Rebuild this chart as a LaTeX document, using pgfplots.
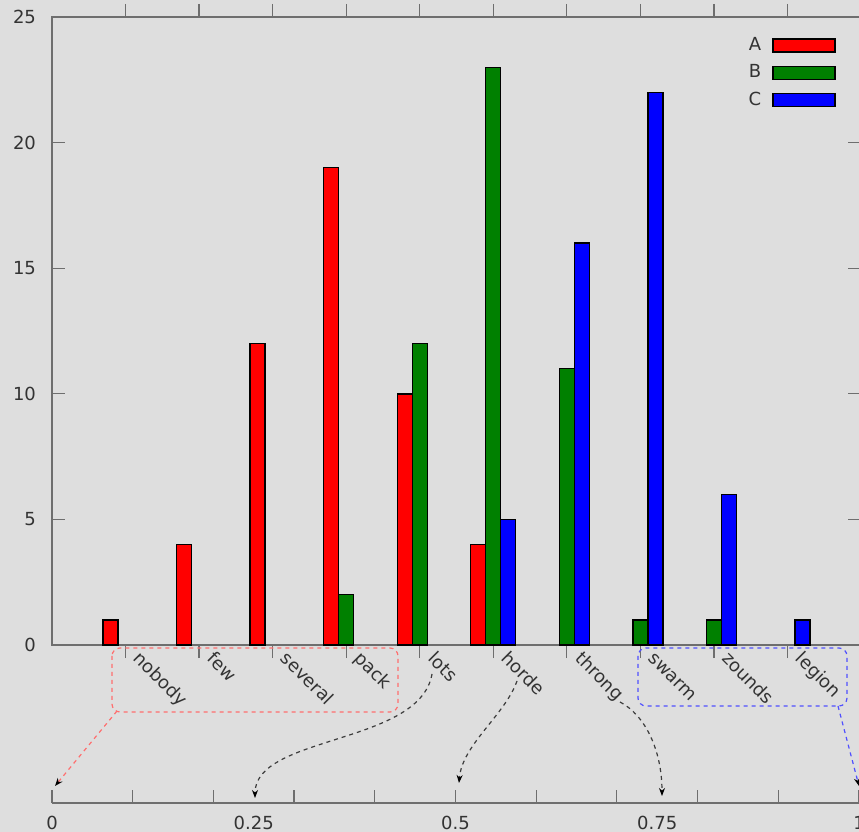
\documentclass[border=0pt]{standalone}
\usepackage{fontspec}
\setmainfont{DejaVu Sans}
\usepackage{pgfplots}
\usepackage{pgfplotstable}
\pgfplotsset{compat=1.18}
\usetikzlibrary{arrows.meta}
\definecolor{bg}{RGB}{222,222,222}
\definecolor{axgray}{RGB}{110,110,110}
\definecolor{barred}{RGB}{255,0,0}
\definecolor{bargreen}{RGB}{0,128,0}
\definecolor{barblue}{RGB}{0,0,255}
\definecolor{boxred}{RGB}{255,110,110}
\definecolor{boxblue}{RGB}{80,80,255}
\definecolor{arrgray}{RGB}{60,60,60}

\pgfplotstableread{
x A B C
0 1 0 0
1 4 0 0
2 12 0 0
3 19 2 0
4 10 12 0
5 4 23 5
6 0 11 16
7 0 1 22
8 0 1 6
9 0 0 1
}\data

\begin{document}
\begin{tikzpicture}[font=\fontsize{9}{10}\selectfont]
\fill[bg] (0,0) rectangle (429.5pt,416pt);
\useasboundingbox (0,0) rectangle (429.5pt,416pt);
\begin{axis}[
  at={(26pt,93.5pt)}, anchor=south west,
  scale only axis, width=404.5pt, height=314pt,
  xmin=-1, xmax=10, ymin=0, ymax=25,
  xtick={0,...,9},
  xticklabels={nobody,few,several,pack,lots,horde,throng,swarm,zounds,legion},
  ytick={0,5,...,25},
  tick align=inside,
  major tick length=6.5pt,
  every tick/.style={axgray, line width=0.6pt},
  axis line style={axgray, line width=1.2pt},
  xticklabel style={rotate=-45, anchor=base west, inner sep=1pt, xshift=2pt, yshift=2pt, text=black!80},
  yticklabel style={xshift=-4.5pt, text=black!80},
  /pgf/number format/assume math mode=true,
  ybar, bar width=7.5pt,
  unbounded coords=discard,
  y filter/.expression={y==0 ? nan : y},
  legend plot pos=right,
  legend cell align=right,
  legend style={draw=none, fill=none, at={(rel axis cs:1,1)}, anchor=north east,
    xshift=-9.5pt, yshift=-6pt, row sep=1.6pt, text=black!80,
    /tikz/every odd column/.append style={column sep=3.5pt}},
  legend image code/.code={\draw[#1] (0pt,-3.25pt) rectangle (31pt,3.25pt);},
]
\addplot[draw=black, fill=barred, line width=0.7pt, bar shift=-7.5pt] table[x=x,y=A]{\data};
\addplot[draw=black, fill=bargreen, line width=0.7pt, bar shift=0pt] table[x=x,y=B]{\data};
\addplot[draw=black, fill=barblue, line width=0.7pt, bar shift=7.5pt] table[x=x,y=C]{\data};
\legend{A,B,C}
\end{axis}
\begin{axis}[
  at={(26pt,14.5pt)}, anchor=south west,
  scale only axis, width=403.5pt, height=10pt,
  xmin=0, xmax=1, ymin=0, ymax=1,
  axis x line*=bottom, axis y line=none,
  x axis line style={-, axgray, line width=1pt},
  xtick={0,0.25,0.5,0.75,1},
  xticklabels={0,0.25,0.5,0.75,1},
  major tick length=0pt,
  minor xtick={0,0.1,0.2,0.3,0.4,0.5,0.6,0.7,0.8,0.9,1},
  minor tick length=6.5pt,
  tick align=inside,
  every minor tick/.style={axgray, line width=0.6pt},
  xticklabel style={yshift=-3pt, text=black!80},
]
\end{axis}
\begin{scope}[shift={(0pt,416pt)}, x=0.5pt, y=-0.5pt]
\draw[boxred, dash pattern=on 2pt off 2pt, line width=0.6pt, rounded corners=4pt] (112,648) rectangle (398,712);
\draw[boxblue, dash pattern=on 2pt off 2pt, line width=0.6pt, rounded corners=4pt] (638,648) rectangle (847,706);
\draw[boxred, dash pattern=on 2pt off 2pt, line width=0.6pt, -{Stealth[black,length=4pt,width=3pt]}] (117,711) -- (55,786);
\draw[boxblue, dash pattern=on 2pt off 2pt, line width=0.6pt, -{Stealth[black,length=4pt,width=3pt]}] (838,706) -- (859,786);
\draw[arrgray, dash pattern=on 2pt off 2pt, line width=0.6pt, -{Stealth[black,length=4pt,width=3pt]}] (432,674) .. controls (420,745) and (255,735) .. (255,798);
\draw[arrgray, dash pattern=on 2pt off 2pt, line width=0.6pt, -{Stealth[black,length=4pt,width=3pt]}] (517,681) .. controls (505,715) and (462,745) .. (459,783);
\draw[arrgray, dash pattern=on 2pt off 2pt, line width=0.6pt, -{Stealth[black,length=4pt,width=3pt]}] (620,702) .. controls (645,715) and (662,750) .. (662,796);
\end{scope}
\end{tikzpicture}
\end{document}
